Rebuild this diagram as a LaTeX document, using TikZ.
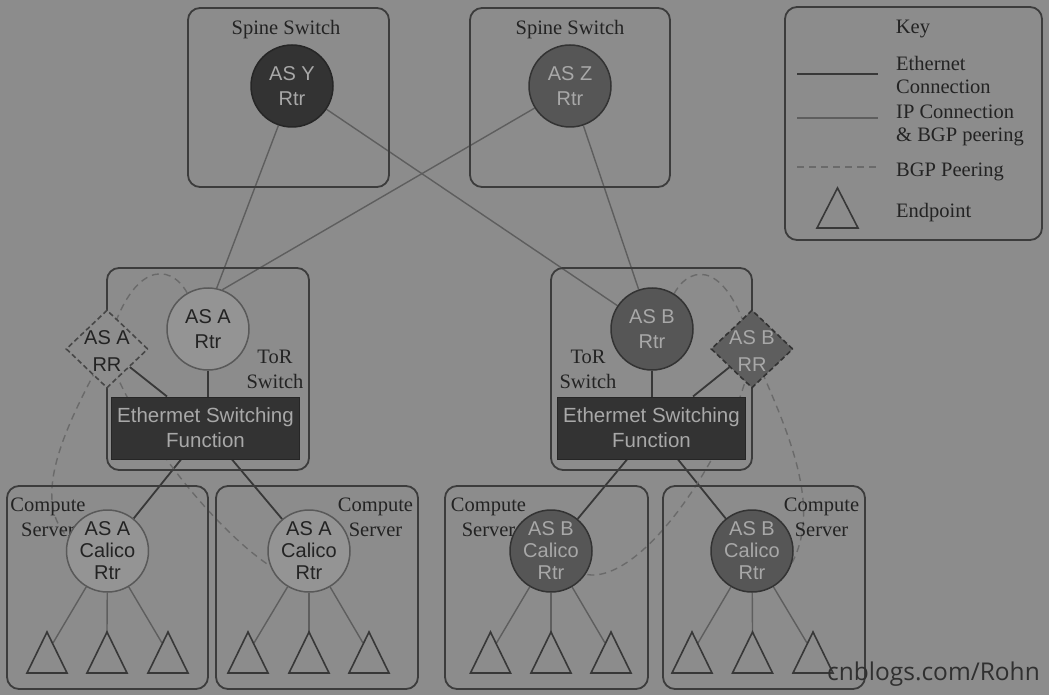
\documentclass[tikz,border=0pt]{standalone}
\usepackage{fontspec}
\setmainfont{Liberation Serif}
\setsansfont{Liberation Sans}
\newfontfamily\wmfont{Open Sans}
\usetikzlibrary{shapes.geometric}
\pgfdeclarelayer{back}
\pgfdeclarelayer{bg}
\pgfsetlayers{back,bg,main}
\definecolor{bgc}{HTML}{8C8C8C}
\definecolor{boxc}{HTML}{3C3C3C}
\definecolor{ethc}{HTML}{383838}
\definecolor{ipc}{HTML}{5E5E5E}
\definecolor{bgpc}{HTML}{6A6A6A}
\definecolor{darkfill}{HTML}{333333}
\definecolor{midfill}{HTML}{565656}
\definecolor{lightfill}{HTML}{949494}
\definecolor{lighttext}{HTML}{A8A8A8}
\definecolor{darktext}{HTML}{232323}
\definecolor{rrbfill}{HTML}{5E5E5E}
\definecolor{wmc}{HTML}{303030}
\tikzset{
  box/.style={draw=boxc, line width=1.8pt, rounded corners=12pt},
  serif/.style={font=\fontsize{20.5}{25}\selectfont, text=darktext, inner sep=0pt, align=center},
  keytext/.style={font=\fontsize{20.5}{23}\selectfont, text=darktext, inner sep=0pt, align=left, anchor=west},
  rtr/.style={circle, minimum size=82pt, inner sep=0pt, line width=1.5pt, align=center,
    font=\sffamily\fontsize{20}{24.5}\selectfont},
  calico/.style={rtr, font=\sffamily\fontsize{20}{22}\selectfont},
  rdark/.style={fill=darkfill, draw=black!85, text=lighttext},
  rmid/.style={fill=midfill, draw=black!80, text=lighttext},
  rlight/.style={fill=lightfill, draw=black!65, text=darktext},
  rrshape/.style={diamond, minimum width=82pt, minimum height=78pt, inner sep=0pt,
    dashed, dash pattern=on 5pt off 3pt, line width=1.6pt},
  rrtext/.style={font=\sffamily\fontsize{20}{27}\selectfont, align=center, inner sep=0pt},
  ethbox/.style={rectangle, fill=darkfill, draw=black!85, line width=1pt, minimum width=188pt,
    minimum height=62pt, inner sep=0pt, text=lighttext, align=center,
    font=\sffamily\fontsize{20.5}{25}\selectfont},
  ethl/.style={draw=ethc, line width=1.8pt},
  ipl/.style={draw=ipc, line width=1.4pt},
  bgp/.style={draw=bgpc, line width=1.4pt, dash pattern=on 7pt off 5pt},
  ep/.style={draw=ethc, line width=1.6pt, line join=miter}
}
\begin{document}
\begin{tikzpicture}[x=1pt,y=-1pt]
\begin{pgfonlayer}{back}
\fill[bgc] (0,0) rectangle (1049,695);
\end{pgfonlayer}
\useasboundingbox (0,0) rectangle (1049,695);

% container boxes
\draw[box] (188,8) rectangle (389,187);
\draw[box] (470,8) rectangle (670,187);
\draw[box] (785,7) rectangle (1042,240);
\draw[box] (107,268) rectangle (309,470);
\draw[box] (551,268) rectangle (752,470);
\draw[box] (7,486) rectangle (208,689);
\draw[box] (216,486) rectangle (418,689);
\draw[box] (445,486) rectangle (648,689);
\draw[box] (663,486) rectangle (865,689);

% titles
\node[serif] (sp1) at (286,30) {Spine Switch};
\node[serif] (sp2) at (570,30) {Spine Switch};
\node[serif] (tora) at (275,369) {ToR\\Switch};
\node[serif] (torb) at (588,369) {ToR\\Switch};
\node[serif] (cs1) at (48,517.5) {Compute\\Server};
\node[serif] (cs2) at (375.5,517.5) {Compute\\Server};
\node[serif] (cs3) at (488.5,517.5) {Compute\\Server};
\node[serif] (cs4) at (821.5,517.5) {Compute\\Server};

% routers
\node[rtr,rdark] (asy) at (292,86) {AS Y\\Rtr};
\node[rtr,rmid] (asz) at (570,86) {AS Z\\Rtr};
\node[rtr,rlight] (asa) at (208,329) {AS A\\Rtr};
\node[rtr,rmid] (asb) at (652,329) {AS B\\Rtr};
\node[rrshape, fill=lightfill!95!black, draw=black!72] (rra) at (107,349) {};
\node[rrtext, text=darktext] (rraT) at (107,351) {AS A\\RR};
\node[rrshape, fill=rrbfill, draw=black!80] (rrb) at (752,349) {};
\node[rrtext, text=lighttext] (rrbT) at (752,351) {AS B\\RR};
\node[ethbox] (etha) at (205.5,428) {Ethermet Switching\\Function};
\node[ethbox] (ethb) at (651.5,428) {Ethermet Switching\\Function};
\node[calico,rlight] (c1) at (107.5,551) {AS A\\Calico\\Rtr};
\node[calico,rlight] (c2) at (309,551) {AS A\\Calico\\Rtr};
\node[calico,rmid] (c3) at (551,551) {AS B\\Calico\\Rtr};
\node[calico,rmid] (c4) at (752,551) {AS B\\Calico\\Rtr};

% endpoints (apex coordinates)
\foreach \n/\x in {1/47,2/107,3/168,4/248,5/309,6/369,7/490.5,8/551,9/611,10/692,11/752.5,12/813}{
  \coordinate (t\n) at (\x,632);
  \draw[ep] (t\n) -- ++(20,41) -- ++(-40,0) -- cycle;
}

\begin{pgfonlayer}{bg}
% IP connections
\draw[ipl] (asy.251) -- (asa.78);
\draw[ipl] (asy) -- (asb);
\draw[ipl] (asz.212) -- (asa.70);
\draw[ipl] (asz) -- (asb);
\foreach \c/\a/\b/\d in {c1/t1/t2/t3, c2/t4/t5/t6, c3/t7/t8/t9, c4/t10/t11/t12}{
  \draw[ipl] (\c) -- ([shift={(6,11)}]\a);
  \draw[ipl] (\c) -- (\b);
  \draw[ipl] (\c) -- ([shift={(-6,11)}]\d);
}
% Ethernet connections
\draw[ethl] (asa.south) -- (asa.south |- etha.north);
\draw[ethl] (rra) -- ([xshift=56pt]etha.north west);
\draw[ethl] ([xshift=70pt]etha.south west) -- (c1);
\draw[ethl] ([xshift=121pt]etha.south west) -- (c2);
\draw[ethl] (asb.south) -- (asb.south |- ethb.north);
\draw[ethl] (rrb) -- ([xshift=136pt]ethb.north west);
\draw[ethl] ([xshift=70pt]ethb.south west) -- (c3);
\draw[ethl] ([xshift=121pt]ethb.south west) -- (c4);
% BGP peering
\draw[bgp] (asa.120) .. controls +(-17.5,-31.5) and +(23,-87) .. (rra.center)
  .. controls +(-32,61) and +(-42,-42) .. (c1.161);
\draw[bgp] (rra.center) .. controls +(20,70) and +(-60,-40) .. (c2.201);
\draw[bgp] (asb.58) .. controls +(17.5,-31.5) and +(-23,-87) .. (rrb.center)
  .. controls +(30,70) and +(32,-60) .. (c4.344);
\draw[bgp] (rrb.center) .. controls +(-10,85) and +(60,12) .. (c3.326);
\end{pgfonlayer}

% key
\node[serif] (key) at (913,29) {Key};
\node[keytext] (k1) at (896,74.5) {Ethernet\\Connection};
\node[keytext] (k2) at (896,125) {IP Connection\\\& BGP peering};
\node[keytext] (k3) at (896,172) {BGP Peering};
\node[keytext] (k4) at (896,213) {Endpoint};
\draw[ethl] (797,74) -- (878,74);
\draw[ipl] (797,118) -- (878,118);
\draw[bgp] (797,167) -- (878,167);
\draw[ep] (837.5,188) -- (858,228) -- (817,228) -- cycle;

% watermark
\node[anchor=base east, inner sep=0pt, text=wmc, font=\wmfont\fontsize{24.5}{28}\selectfont] (wm) at (1040,680) {cnblogs.com/Rohn};
\end{tikzpicture}
\end{document}
